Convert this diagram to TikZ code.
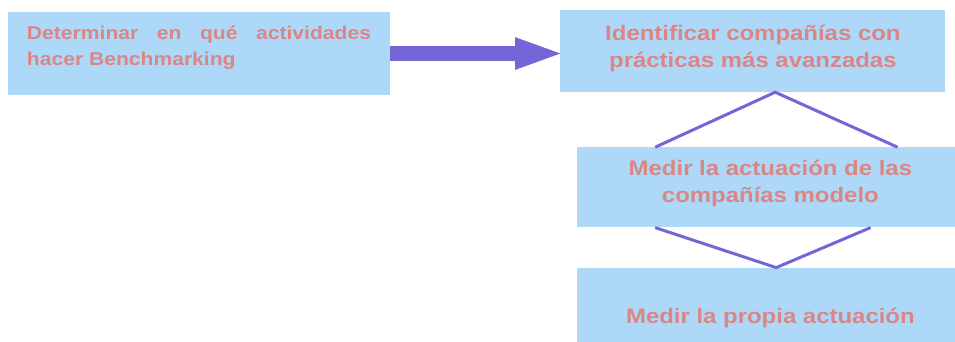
\documentclass[tikz,border=0pt]{standalone}
\usepackage{fontspec}
\setmainfont{Liberation Sans}[FakeStretch=1.14]
\usetikzlibrary{arrows.meta,positioning}
\definecolor{stagefill}{HTML}{AED8F8}
\definecolor{stagetext}{HTML}{DC8585}
\definecolor{stagelink}{HTML}{7466D6}

\begin{document}
\begin{tikzpicture}[x=1pt,y=-1pt,
  stage/.style={fill=stagefill,inner sep=0pt,text=stagetext,font=\bfseries\fontsize{21}{27}\selectfont,align=center,minimum width=386pt,text depth=5pt},
  link/.style={draw=stagelink,line width=3pt},
  bigarrow/.style={-{Triangle[length=50pt,width=28pt]},draw=stagelink,line width=15pt,shorten >=-5pt}
]
\clip (0,0) rectangle (955,341);
\node[stage,minimum width=382pt,minimum height=83pt,text width=344pt,align=justify,font=\bfseries\fontsize{18.5}{26}\selectfont,text height=14pt,text depth=43pt] (b1) at (199,53.5) {Determinar en qué actividades\linebreak hacer Benchmarking};
\node[stage,minimum width=385pt,minimum height=82pt,text height=37pt,right=170pt of b1,yshift=2.5pt] (b2) {Identificar compañías con\\prácticas más avanzadas};
\node[stage,minimum height=80pt,text height=35pt,below=55pt of b2,xshift=17.5pt] (b3) {Medir la actuación de las\\compañías modelo};
\node[stage,minimum height=98pt,text height=15pt,text depth=1pt,below=40pt of b3] (b4) {Medir la propia actuación};
% chevrons between the stages
\coordinate (c1a) at ([xshift=78pt]b3.north west);
\coordinate (c1t) at ([xshift=215pt]b2.south west);
\coordinate (c1b) at ([xshift=-66pt]b3.north east);
\coordinate (c2a) at ([xshift=78pt]b3.south west);
\coordinate (c2t) at ([xshift=199pt]b4.north west);
\coordinate (c2b) at ([xshift=-93pt]b3.south east);
\draw[bigarrow] (b1.east) -- (b1.east -| b2.west);
\draw[link] (c1a) -- (c1t) -- (c1b);
\draw[link] (c2a) -- (c2t) -- (c2b);
\end{tikzpicture}
\end{document}
